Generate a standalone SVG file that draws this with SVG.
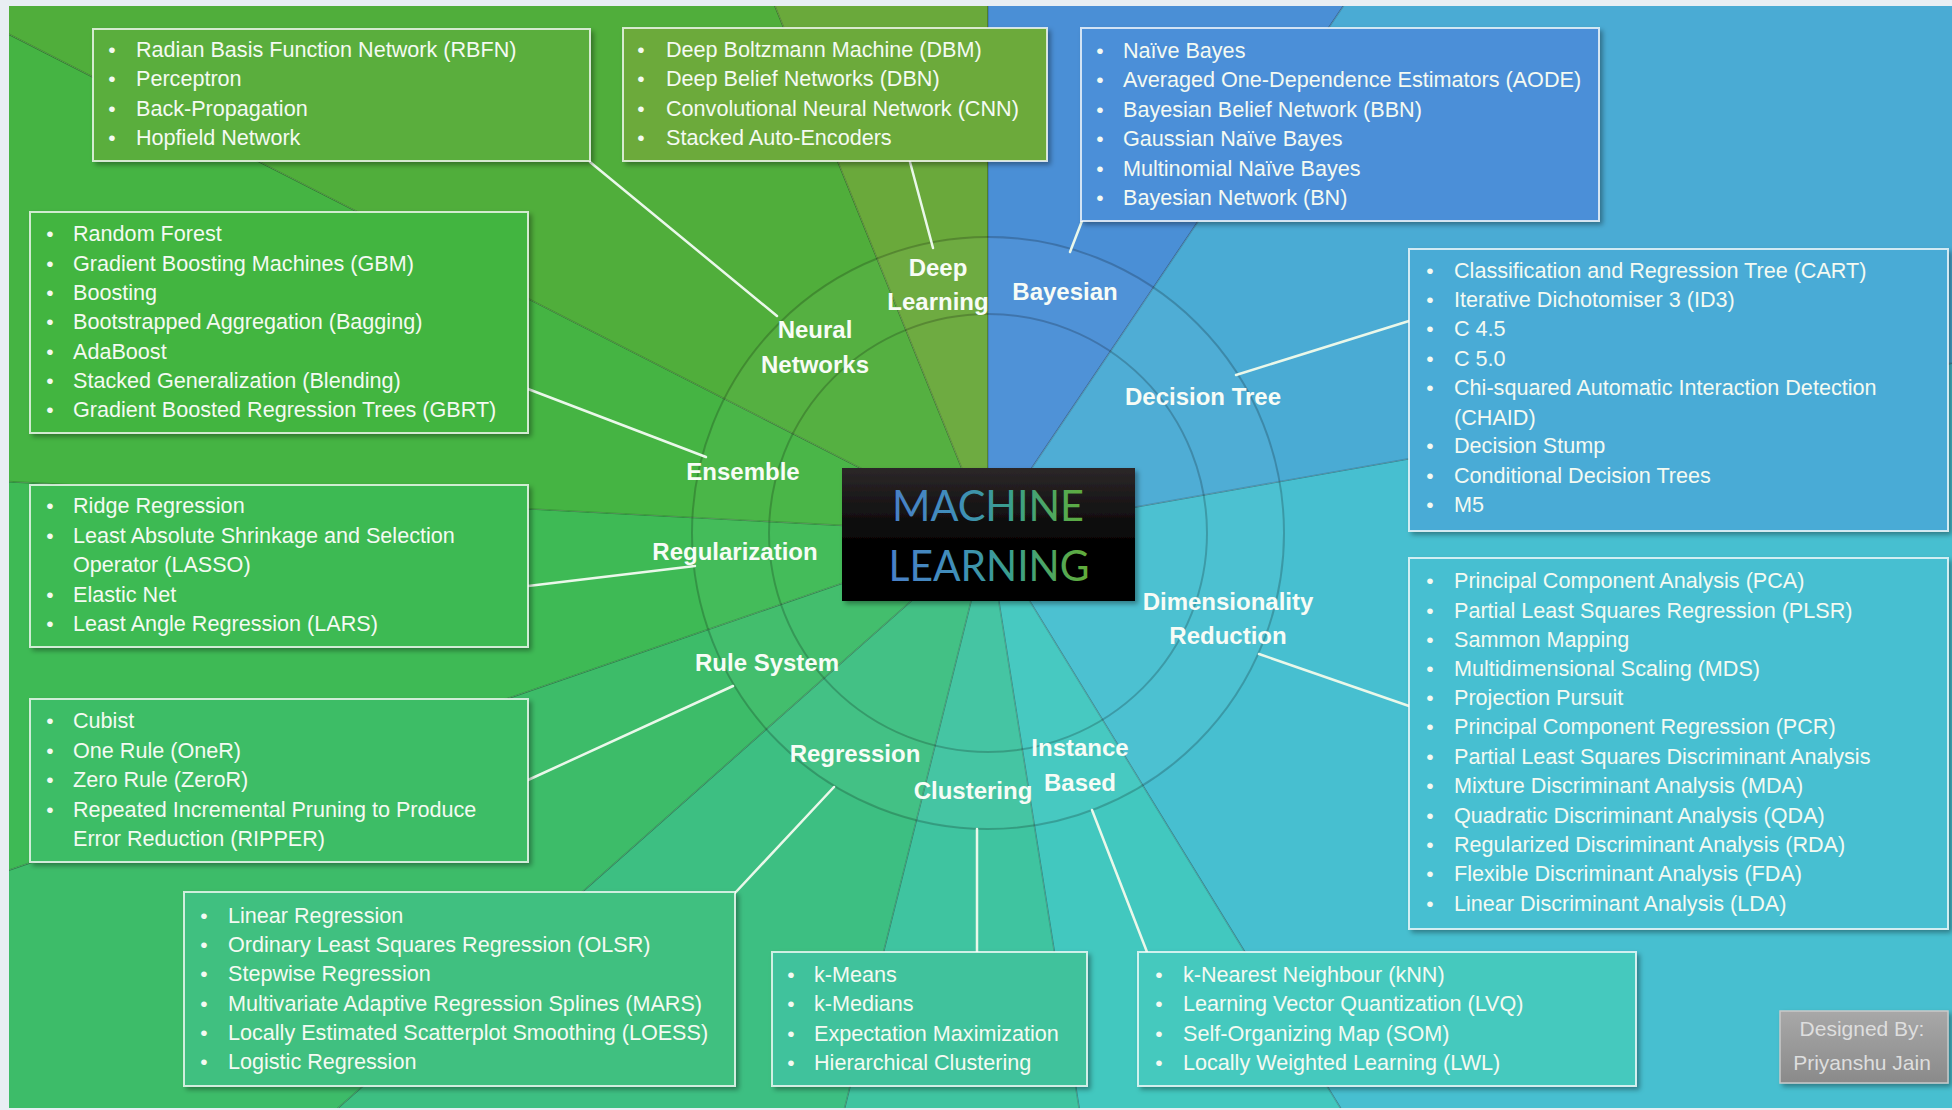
<svg xmlns="http://www.w3.org/2000/svg" width="1952" height="1110" viewBox="0 0 1952 1110">
<style>
.item{font-family:"Liberation Sans",Arial,sans-serif;font-size:21.6px;fill:#f4faf2}
.bul{font-family:"Liberation Sans",Arial,sans-serif;font-size:21px;fill:#f4faf2;text-anchor:middle}
.lbl{font-family:"Liberation Sans",Arial,sans-serif;font-size:24px;font-weight:bold;fill:#f7fcf6;text-anchor:middle}
.box{stroke:#ffffff;stroke-opacity:0.75;stroke-width:2;filter:url(#sh)}
.wedge{stroke:#000000;stroke-opacity:0.16;stroke-width:1.6}
.conn{stroke:#eaf8ea;stroke-width:2.5;fill:none;stroke-linecap:round}
.ring{fill:none;stroke:#000000;stroke-opacity:0.2;stroke-width:2}
.title{font-family:Lato,"Liberation Sans",sans-serif;font-weight:400;font-size:43px}
</style>
<defs>
<filter id="sh" x="-5%" y="-5%" width="115%" height="125%">
<feDropShadow dx="3" dy="3" stdDeviation="2.5" flood-color="#000" flood-opacity="0.35"/>
</filter>
<clipPath id="frame"><rect x="9" y="6" width="1943" height="1102"/></clipPath>
<linearGradient id="title" gradientUnits="userSpaceOnUse" x1="890" y1="0" x2="1090" y2="0">
<stop offset="0" stop-color="#4a80c8"/>
<stop offset="0.35" stop-color="#3f8fb8"/>
<stop offset="0.6" stop-color="#3a9f8c"/>
<stop offset="1" stop-color="#62ad36"/>
</linearGradient>
<linearGradient id="dark" x1="0" y1="0" x2="0" y2="1">
<stop offset="0" stop-color="#2c2729"/>
<stop offset="0.55" stop-color="#050505"/>
<stop offset="1" stop-color="#000000"/>
</linearGradient>
<linearGradient id="gray" x1="0" y1="0" x2="0" y2="1">
<stop offset="0" stop-color="#a8a8a8"/>
<stop offset="1" stop-color="#8a8a8a"/>
</linearGradient>
</defs>
<rect x="0" y="0" width="1952" height="1110" fill="#e8eef3"/>
<g id="background" clip-path="url(#frame)">
<path class="wedge" fill="#47bfd0" d="M988 533 L3450 99 L2294 2664 Z"/>
<path class="wedge" fill="#42c8bf" d="M988 533 L2294 2664 L1379 3002 Z"/>
<path class="wedge" fill="#3fc4a0" d="M988 533 L1379 3002 L383 2959 Z"/>
<path class="wedge" fill="#3dbf82" d="M988 533 L383 2959 L-884 2189 Z"/>
<path class="wedge" fill="#3dbc69" d="M988 533 L-884 2189 L-1376 1347 Z"/>
<path class="wedge" fill="#3eba55" d="M988 533 L-1376 1347 L-1509 402 Z"/>
<path class="wedge" fill="#45b443" d="M988 533 L-1509 402 L-1240 -602 Z"/>
<path class="wedge" fill="#50ae3b" d="M988 533 L-1240 -602 L51 -1785 Z"/>
<path class="wedge" fill="#6aa93b" d="M988 533 L51 -1785 L988 -1967 Z"/>
<path class="wedge" fill="#4a8fd6" d="M988 533 L988 -1967 L2386 -1540 Z"/>
<path class="wedge" fill="#4aabd4" d="M988 533 L2386 -1540 L3450 99 Z"/>
<circle cx="988" cy="533" r="296" fill="#ffffff" fill-opacity="0.03"/>
<circle class="ring" cx="988" cy="533" r="296"/>
<circle class="ring" cx="988" cy="533" r="219"/>
</g>
<g id="connectors">
<line class="conn" x1="590" y1="162" x2="777" y2="316"/>
<line class="conn" x1="910" y1="162" x2="933" y2="248"/>
<line class="conn" x1="1082" y1="221" x2="1070" y2="252"/>
<line class="conn" x1="1409" y1="321" x2="1236" y2="375"/>
<line class="conn" x1="1259" y1="654" x2="1409" y2="706"/>
<line class="conn" x1="1092" y1="810" x2="1147" y2="952"/>
<line class="conn" x1="977" y1="829" x2="977" y2="952"/>
<line class="conn" x1="834" y1="787" x2="735" y2="893"/>
<line class="conn" x1="733" y1="686" x2="528" y2="780"/>
<line class="conn" x1="695" y1="566" x2="528" y2="586"/>
<line class="conn" x1="528" y1="389" x2="706" y2="457"/>
</g>
<g id="node-neural-networks">
<rect class="box" x="93" y="29" width="497" height="132" fill="#5aae3d"/>
<text class="bul" x="112" y="57">•</text><text class="item" x="136" y="57">Radian Basis Function Network (RBFN)</text>
<text class="bul" x="112" y="86">•</text><text class="item" x="136" y="86">Perceptron</text>
<text class="bul" x="112" y="116">•</text><text class="item" x="136" y="116">Back-Propagation</text>
<text class="bul" x="112" y="145">•</text><text class="item" x="136" y="145">Hopfield Network</text>
<text class="lbl" x="815" y="338">Neural</text><text class="lbl" x="815" y="373">Networks</text>
</g>
<g id="node-deep-learning">
<rect class="box" x="623" y="28" width="424" height="133" fill="#6caa3a"/>
<text class="bul" x="641" y="57">•</text><text class="item" x="666" y="57">Deep Boltzmann Machine (DBM)</text>
<text class="bul" x="641" y="86">•</text><text class="item" x="666" y="86">Deep Belief Networks (DBN)</text>
<text class="bul" x="641" y="116">•</text><text class="item" x="666" y="116">Convolutional Neural Network (CNN)</text>
<text class="bul" x="641" y="145">•</text><text class="item" x="666" y="145">Stacked Auto-Encoders</text>
<text class="lbl" x="938" y="276">Deep</text><text class="lbl" x="938" y="310">Learning</text>
</g>
<g id="node-bayesian">
<rect class="box" x="1081" y="28" width="518" height="193" fill="#4b8fd8"/>
<text class="bul" x="1100" y="58">•</text><text class="item" x="1123" y="58">Naïve Bayes</text>
<text class="bul" x="1100" y="87">•</text><text class="item" x="1123" y="87">Averaged One-Dependence Estimators (AODE)</text>
<text class="bul" x="1100" y="117">•</text><text class="item" x="1123" y="117">Bayesian Belief Network (BBN)</text>
<text class="bul" x="1100" y="146">•</text><text class="item" x="1123" y="146">Gaussian Naïve Bayes</text>
<text class="bul" x="1100" y="176">•</text><text class="item" x="1123" y="176">Multinomial Naïve Bayes</text>
<text class="bul" x="1100" y="205">•</text><text class="item" x="1123" y="205">Bayesian Network (BN)</text>
<text class="lbl" x="1065" y="300">Bayesian</text>
</g>
<g id="node-decision-tree">
<rect class="box" x="1409" y="249" width="539" height="282" fill="#4aabd6"/>
<text class="bul" x="1430" y="278">•</text><text class="item" x="1454" y="278">Classification and Regression Tree (CART)</text>
<text class="bul" x="1430" y="307">•</text><text class="item" x="1454" y="307">Iterative Dichotomiser 3 (ID3)</text>
<text class="bul" x="1430" y="336">•</text><text class="item" x="1454" y="336">C 4.5</text>
<text class="bul" x="1430" y="366">•</text><text class="item" x="1454" y="366">C 5.0</text>
<text class="bul" x="1430" y="395">•</text><text class="item" x="1454" y="395">Chi-squared Automatic Interaction Detection</text>
<text class="item" x="1454" y="425">(CHAID)</text>
<text class="bul" x="1430" y="453">•</text><text class="item" x="1454" y="453">Decision Stump</text>
<text class="bul" x="1430" y="483">•</text><text class="item" x="1454" y="483">Conditional Decision Trees</text>
<text class="bul" x="1430" y="512">•</text><text class="item" x="1454" y="512">M5</text>
<text class="lbl" x="1203" y="405">Decision Tree</text>
</g>
<g id="node-dimensionality-reduction">
<rect class="box" x="1409" y="558" width="539" height="371" fill="#46bfd1"/>
<text class="bul" x="1430" y="588">•</text><text class="item" x="1454" y="588">Principal Component Analysis (PCA)</text>
<text class="bul" x="1430" y="618">•</text><text class="item" x="1454" y="618">Partial Least Squares Regression (PLSR)</text>
<text class="bul" x="1430" y="647">•</text><text class="item" x="1454" y="647">Sammon Mapping</text>
<text class="bul" x="1430" y="676">•</text><text class="item" x="1454" y="676">Multidimensional Scaling (MDS)</text>
<text class="bul" x="1430" y="705">•</text><text class="item" x="1454" y="705">Projection Pursuit</text>
<text class="bul" x="1430" y="734">•</text><text class="item" x="1454" y="734">Principal Component Regression (PCR)</text>
<text class="bul" x="1430" y="764">•</text><text class="item" x="1454" y="764">Partial Least Squares Discriminant Analysis</text>
<text class="bul" x="1430" y="793">•</text><text class="item" x="1454" y="793">Mixture Discriminant Analysis (MDA)</text>
<text class="bul" x="1430" y="823">•</text><text class="item" x="1454" y="823">Quadratic Discriminant Analysis (QDA)</text>
<text class="bul" x="1430" y="852">•</text><text class="item" x="1454" y="852">Regularized Discriminant Analysis (RDA)</text>
<text class="bul" x="1430" y="881">•</text><text class="item" x="1454" y="881">Flexible Discriminant Analysis (FDA)</text>
<text class="bul" x="1430" y="911">•</text><text class="item" x="1454" y="911">Linear Discriminant Analysis (LDA)</text>
<text class="lbl" x="1228" y="610">Dimensionality</text><text class="lbl" x="1228" y="644">Reduction</text>
</g>
<g id="node-instance-based">
<rect class="box" x="1138" y="952" width="498" height="134" fill="#44c9be"/>
<text class="bul" x="1159" y="982">•</text><text class="item" x="1183" y="982">k-Nearest Neighbour (kNN)</text>
<text class="bul" x="1159" y="1011">•</text><text class="item" x="1183" y="1011">Learning Vector Quantization (LVQ)</text>
<text class="bul" x="1159" y="1041">•</text><text class="item" x="1183" y="1041">Self-Organizing Map (SOM)</text>
<text class="bul" x="1159" y="1070">•</text><text class="item" x="1183" y="1070">Locally Weighted Learning (LWL)</text>
<text class="lbl" x="1080" y="756">Instance</text><text class="lbl" x="1080" y="791">Based</text>
</g>
<g id="node-clustering">
<rect class="box" x="772" y="952" width="315" height="134" fill="#3fc29c"/>
<text class="bul" x="791" y="982">•</text><text class="item" x="814" y="982">k-Means</text>
<text class="bul" x="791" y="1011">•</text><text class="item" x="814" y="1011">k-Medians</text>
<text class="bul" x="791" y="1041">•</text><text class="item" x="814" y="1041">Expectation Maximization</text>
<text class="bul" x="791" y="1070">•</text><text class="item" x="814" y="1070">Hierarchical Clustering</text>
<text class="lbl" x="973" y="799">Clustering</text>
</g>
<g id="node-regression">
<rect class="box" x="184" y="892" width="551" height="194" fill="#40c080"/>
<text class="bul" x="204" y="923">•</text><text class="item" x="228" y="923">Linear Regression</text>
<text class="bul" x="204" y="952">•</text><text class="item" x="228" y="952">Ordinary Least Squares Regression (OLSR)</text>
<text class="bul" x="204" y="981">•</text><text class="item" x="228" y="981">Stepwise Regression</text>
<text class="bul" x="204" y="1011">•</text><text class="item" x="228" y="1011">Multivariate Adaptive Regression Splines (MARS)</text>
<text class="bul" x="204" y="1040">•</text><text class="item" x="228" y="1040">Locally Estimated Scatterplot Smoothing (LOESS)</text>
<text class="bul" x="204" y="1069">•</text><text class="item" x="228" y="1069">Logistic Regression</text>
<text class="lbl" x="855" y="762">Regression</text>
</g>
<g id="node-rule-system">
<rect class="box" x="30" y="699" width="498" height="163" fill="#3ebd66"/>
<text class="bul" x="50" y="728">•</text><text class="item" x="73" y="728">Cubist</text>
<text class="bul" x="50" y="758">•</text><text class="item" x="73" y="758">One Rule (OneR)</text>
<text class="bul" x="50" y="787">•</text><text class="item" x="73" y="787">Zero Rule (ZeroR)</text>
<text class="bul" x="50" y="817">•</text><text class="item" x="73" y="817">Repeated Incremental Pruning to Produce</text>
<text class="item" x="73" y="846">Error Reduction (RIPPER)</text>
<text class="lbl" x="767" y="671">Rule System</text>
</g>
<g id="node-regularization">
<rect class="box" x="30" y="485" width="498" height="162" fill="#3eba52"/>
<text class="bul" x="50" y="513">•</text><text class="item" x="73" y="513">Ridge Regression</text>
<text class="bul" x="50" y="543">•</text><text class="item" x="73" y="543">Least Absolute Shrinkage and Selection</text>
<text class="item" x="73" y="572">Operator (LASSO)</text>
<text class="bul" x="50" y="602">•</text><text class="item" x="73" y="602">Elastic Net</text>
<text class="bul" x="50" y="631">•</text><text class="item" x="73" y="631">Least Angle Regression (LARS)</text>
<text class="lbl" x="735" y="560">Regularization</text>
</g>
<g id="node-ensemble">
<rect class="box" x="30" y="212" width="498" height="221" fill="#43b541"/>
<text class="bul" x="50" y="241">•</text><text class="item" x="73" y="241">Random Forest</text>
<text class="bul" x="50" y="271">•</text><text class="item" x="73" y="271">Gradient Boosting Machines (GBM)</text>
<text class="bul" x="50" y="300">•</text><text class="item" x="73" y="300">Boosting</text>
<text class="bul" x="50" y="329">•</text><text class="item" x="73" y="329">Bootstrapped Aggregation (Bagging)</text>
<text class="bul" x="50" y="359">•</text><text class="item" x="73" y="359">AdaBoost</text>
<text class="bul" x="50" y="388">•</text><text class="item" x="73" y="388">Stacked Generalization (Blending)</text>
<text class="bul" x="50" y="417">•</text><text class="item" x="73" y="417">Gradient Boosted Regression Trees (GBRT)</text>
<text class="lbl" x="743" y="480">Ensemble</text>
</g>
<g id="node-machine-learning">
<rect x="842" y="468" width="293" height="133" fill="url(#dark)" filter="url(#sh)"/>
<text class="title" x="988" y="521" text-anchor="middle" textLength="192" lengthAdjust="spacingAndGlyphs" fill="url(#title)">MACHINE</text>
<text class="title" x="989" y="581" text-anchor="middle" textLength="201" lengthAdjust="spacingAndGlyphs" fill="url(#title)">LEARNING</text>
</g>
<g id="credit">
<rect x="1780" y="1011" width="168" height="72" fill="url(#gray)" stroke="#c9c9c9" stroke-width="1.5" filter="url(#sh)"/>
<text x="1862" y="1036" text-anchor="middle" style="font-family:'Liberation Sans',Arial,sans-serif;font-size:21px" fill="#dedede">Designed By:</text>
<text x="1862" y="1070" text-anchor="middle" style="font-family:'Liberation Sans',Arial,sans-serif;font-size:21px" fill="#dedede">Priyanshu Jain</text>
</g>
</svg>
